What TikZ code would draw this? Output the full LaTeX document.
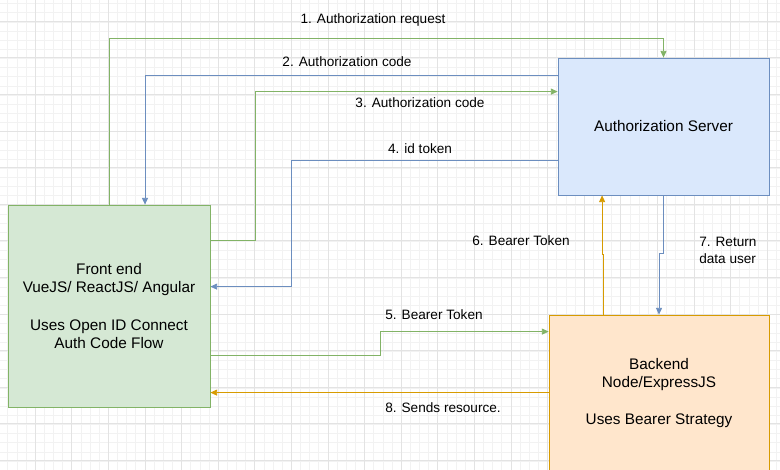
\documentclass[tikz,border=0pt]{standalone}
\usepackage{fontspec}
\setmainfont{Liberation Sans}
\usetikzlibrary{arrows.meta}

\definecolor{greenfill}{HTML}{D5E8D4}
\definecolor{greenline}{HTML}{82B366}
\definecolor{bluefill}{HTML}{DAE8FC}
\definecolor{blueline}{HTML}{6C8EBF}
\definecolor{orangefill}{HTML}{FFE6CC}
\definecolor{orangeline}{HTML}{D79B00}

\tikzset{
  box/.style={draw, line width=0.6pt, align=center, inner sep=0pt,
    font=\fontsize{11.5}{13.9}\selectfont},
  lbl/.style={font=\fontsize{10.2}{12.8}\selectfont, inner sep=0pt},
  flow/.style={line width=0.6pt, -{Triangle[length=5pt,width=4.5pt]}},
}

\begin{document}
\begin{tikzpicture}[x=0.75pt, y=-0.75pt]
\useasboundingbox (0,0) rectangle (780,470);
\clip (0,0) rectangle (780,470);
\fill[white] (0,0) rectangle (780,470);

% grid
\foreach \i in {0,...,86} {
  \draw[black!5, line width=0.4pt] ({-1.5+9.15*\i},0) -- ({-1.5+9.15*\i},470);
}
\foreach \i in {0,...,52} {
  \draw[black!5, line width=0.4pt] (0,{3.5+9.15*\i}) -- (780,{3.5+9.15*\i});
}
\foreach \i in {0,...,22} {
  \draw[black!11, line width=0.5pt] ({-1.5+36.6*\i},0) -- ({-1.5+36.6*\i},470);
}
\foreach \i in {0,...,13} {
  \draw[black!11, line width=0.5pt] (0,{21.2+36.6*\i}) -- (780,{21.2+36.6*\i});
}

% boxes
\node[box, fill=greenfill, draw=greenline, minimum width=151.5pt, minimum height=151.5pt]
  (front) at (109,306) {Front end\\VueJS/ ReactJS/ Angular\\[13.9pt]Uses Open ID Connect\\Auth Code Flow};
\node[box, fill=bluefill, draw=blueline, minimum width=158.25pt, minimum height=102.75pt]
  (auth) at (663.5,126.5) {Authorization Server};
\node[box, fill=orangefill, draw=orangeline, minimum width=165pt, minimum height=117pt]
  (back) at (659,393) {Backend\\Node/ExpressJS\\[13.9pt]Uses Bearer Strategy};

% connectors
\draw[flow, greenline] (front.north) -- ++(0,-166) -| (auth.north);
\draw[flow, blueline] ([shift={(0,18)}]auth.north west) -| ([shift={(36,0)}]front.north);
\draw[flow, greenline] ([shift={(0,36)}]front.north east) -- ++(45,0) |- ([shift={(0,34)}]auth.north west);
\draw[flow, blueline] ([shift={(0,103)}]auth.north west) -- ++(-266,0) |- ([shift={(0,82)}]front.north east);
\draw[flow, greenline] ([shift={(0,151)}]front.north east) -- ++(170,0) |- ([shift={(0,17)}]back.north west);
\draw[flow, orangeline] ([shift={(55,0)}]back.north west) -- ++(0,-60) -- ++(-1.5,0) coordinate (b6) -- (b6 |- auth.south);
\draw[flow, blueline] (auth.south) -- ++(0,58) -| (back.north);
\draw[flow, orangeline] ([shift={(0,78)}]back.north west) coordinate (b8) -- (b8 -| front.east);

% labels
\node[lbl] (l1) at (373,20) {1. Authorization request};
\node[lbl] (l2) at (347,62) {2. Authorization code};
\node[lbl] (l3) at (420,103) {3. Authorization code};
\node[lbl] (l4) at (420,149) {4. id token};
\node[lbl] (l5) at (434,315) {5. Bearer Token};
\node[lbl] (l6) at (521,241) {6. Bearer Token};
\node[lbl, align=left, anchor=west] (l7) at (699,250.5) {7. Return\\data user};
\node[lbl] (l8) at (443,408) {8. Sends resource.};
\end{tikzpicture}
\end{document}
